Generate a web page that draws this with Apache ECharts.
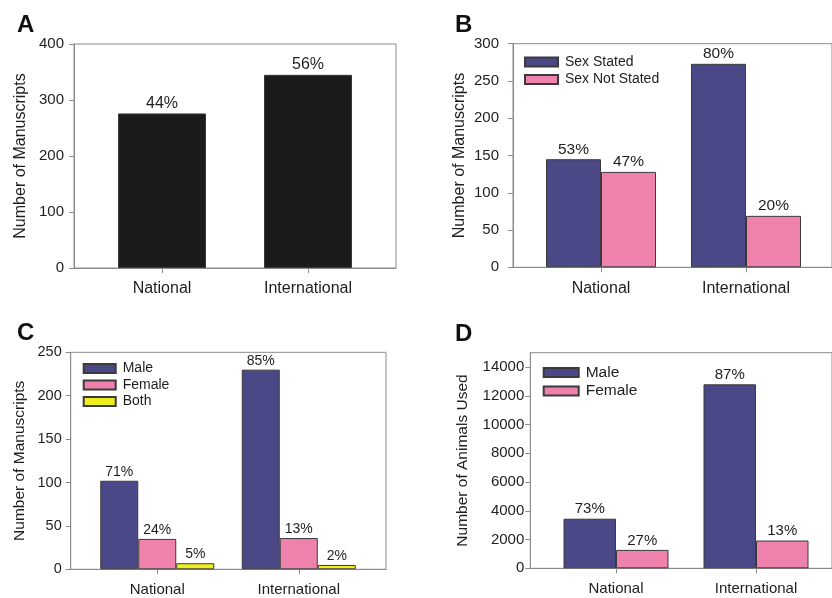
<!DOCTYPE html>
<html>
<head>
<meta charset="utf-8">
<script src="https://cdn.jsdelivr.net/npm/echarts@6/dist/echarts.min.js"></script>
<style>html,body{margin:0;padding:0;background:#fff}#c{width:832px;height:598px}</style>
</head>
<body>
<div id="c"></div>
<script>
// ---- data ----
const categories = ['National', 'International'];
// Panel A: total manuscripts
const totalA = [276, 345];
const pctA = ['44%', '56%'];
const ticksA = [0, 100, 200, 300, 400];
// Panel B: sex stated / not stated
const statedB = [145, 273];
const notStatedB = [128, 69];
const pctStatedB = ['53%', '80%'];
const pctNotStatedB = ['47%', '20%'];
const ticksB = [0, 50, 100, 150, 200, 250, 300];
// Panel C: male / female / both manuscripts
const maleC = [102, 230];
const femaleC = [35, 36];
const bothC = [7, 5];
const pctMaleC = ['71%', '85%'];
const pctFemaleC = ['24%', '13%'];
const pctBothC = ['5%', '2%'];
const ticksC = [0, 50, 100, 150, 200, 250];
// Panel D: animals used
const maleD = [3450, 12800];
const femaleD = [1280, 1930];
const pctMaleD = ['73%', '87%'];
const pctFemaleD = ['27%', '13%'];
const ticksD = [0, 2000, 4000, 6000, 8000, 10000, 12000, 14000];
const axisMaxD = 15000;

// ---- styles ----
const FONT = '"Liberation Sans", Arial, sans-serif';
const AXIS = '#8a8a8a';
const TXT = '#1e1e1e';
const NAVY = '#4a4887';
const PINK = '#ef82ad';
const YELLOW = '#eeee1e';
const BLACK = '#1b1b1b';
const EDGE = '#3a3a3a';

const grids = [], xAxes = [], yAxes = [], series = [], legends = [], titles = [];

function panel(cfg) {
  const f = grids.length, i = f + 1;
  grids.push({left: cfg.frame[0], top: cfg.frame[1], width: cfg.frame[2], height: cfg.frame[3],
    show: true, borderColor: AXIS, borderWidth: 1, backgroundColor: 'transparent'});
  grids.push({left: cfg.inner[0], top: cfg.frame[1], width: cfg.inner[1], height: cfg.frame[3]});
  const step = cfg.ticks[1] - cfg.ticks[0];
  const yMax = cfg.yMax != null ? cfg.yMax : cfg.ticks[cfg.ticks.length - 1];
  xAxes.push({gridIndex: f, type: 'value', min: 0, max: 1,
    axisLine: {show: true, lineStyle: {color: AXIS, width: 1}}, axisTick: {show: false},
    axisLabel: {show: false}, splitLine: {show: false}});
  xAxes.push({gridIndex: i, type: 'category', data: categories,
    axisLine: {show: false},
    axisTick: {show: true, alignWithLabel: true, length: 5, lineStyle: {color: AXIS}},
    axisLabel: {fontSize: cfg.catFont, color: TXT, margin: cfg.catMargin, fontFamily: FONT}});
  const yl = {fontSize: cfg.tickFont, color: TXT, margin: cfg.tickMargin, fontFamily: FONT,
    formatter: v => String(v)};
  const yt = {show: true, length: 5, lineStyle: {color: AXIS}};
  if (cfg.yMax != null) { yl.customValues = cfg.ticks; yt.customValues = cfg.ticks; }
  yAxes.push({gridIndex: f, type: 'value', min: cfg.ticks[0], max: yMax, interval: step,
    axisLine: {show: true, lineStyle: {color: AXIS, width: 1}}, axisTick: yt, axisLabel: yl,
    splitLine: {show: false},
    name: cfg.yName, nameLocation: 'middle', nameGap: cfg.nameGap,
    nameTextStyle: {fontSize: cfg.nameFont, color: TXT, fontFamily: FONT}});
  yAxes.push({gridIndex: i, type: 'value', min: cfg.ticks[0], max: yMax, show: false});
  cfg.bars.forEach(b => {
    series.push({type: 'bar', name: b.name, xAxisIndex: i, yAxisIndex: i, data: b.data,
      barWidth: cfg.barWidth, barGap: '0%',
      itemStyle: {color: b.color, borderColor: EDGE, borderWidth: 1},
      label: {show: true, position: 'top', distance: 2, fontSize: cfg.pctFont, color: TXT, fontFamily: FONT,
        formatter: p => b.pct[p.dataIndex]}});
  });
  titles.push({text: cfg.letter, left: cfg.letterPos[0], top: cfg.letterPos[1],
    textStyle: {fontSize: 24, fontWeight: 'bold', color: '#111', fontFamily: FONT}});
  if (cfg.legend) {
    legends.push(Object.assign({orient: 'vertical', padding: 0, icon: 'rect',
      data: cfg.bars.map(b => b.name)}, cfg.legend));
  }
}

panel({letter: 'A', letterPos: [12, 8], frame: [74, 44, 322, 224], inner: [89, 292],
  ticks: ticksA, yName: 'Number of Manuscripts', nameGap: 45, nameFont: 16,
  tickFont: 15, tickMargin: 10, catFont: 16, catMargin: 13, pctFont: 16, barWidth: 88,
  bars: [{name: 'Total', data: totalA, pct: pctA, color: BLACK}]});

panel({letter: 'B', letterPos: [450, 8], frame: [513, 43.7, 321, 223.6], inner: [528.5, 290],
  ticks: ticksB, yName: 'Number of Manuscripts', nameGap: 45, nameFont: 16,
  tickFont: 15, tickMargin: 14, catFont: 16, catMargin: 13, pctFont: 15.5, barWidth: 55,
  bars: [{name: 'Sex Stated', data: statedB, pct: pctStatedB, color: NAVY},
         {name: 'Sex Not Stated', data: notStatedB, pct: pctNotStatedB, color: PINK}],
  legend: {left: 524, top: 54, itemWidth: 33, itemHeight: 9, itemGap: 1.5,
    textStyle: {fontSize: 14, lineHeight: 16, color: TXT, fontFamily: FONT, padding: [0, 0, 0, 2]}}});

panel({letter: 'C', letterPos: [12, 316], frame: [70.7, 352.3, 315.3, 217], inner: [86.5, 283],
  ticks: ticksC, yName: 'Number of Manuscripts', nameGap: 43, nameFont: 15.5,
  tickFont: 14.5, tickMargin: 9, catFont: 15, catMargin: 13, pctFont: 14, barWidth: 38,
  bars: [{name: 'Male', data: maleC, pct: pctMaleC, color: NAVY},
         {name: 'Female', data: femaleC, pct: pctFemaleC, color: PINK},
         {name: 'Both', data: bothC, pct: pctBothC, color: YELLOW}],
  legend: {left: 82.7, top: 361, itemWidth: 32, itemHeight: 9, itemGap: 1.5,
    textStyle: {fontSize: 14, lineHeight: 15, color: TXT, fontFamily: FONT, padding: [0, 0, 0, 2]}}});

panel({letter: 'D', letterPos: [450, 317], frame: [530.3, 352.7, 311.4, 215.6], inner: [546, 280],
  ticks: ticksD, yMax: axisMaxD, yName: 'Number of Animals Used', nameGap: 60, nameFont: 15.5,
  tickFont: 15, tickMargin: 6, catFont: 15, catMargin: 13, pctFont: 15, barWidth: 52.5,
  bars: [{name: 'Male', data: maleD, pct: pctMaleD, color: NAVY},
         {name: 'Female', data: femaleD, pct: pctFemaleD, color: PINK}],
  legend: {left: 542.7, top: 364, itemWidth: 35, itemHeight: 9, itemGap: 1.4,
    textStyle: {fontSize: 15.5, lineHeight: 17, color: TXT, fontFamily: FONT, padding: [0, 0, 0, 2]}}});

const chart = echarts.init(document.getElementById('c'), null, {renderer: 'canvas'});
chart.setOption({
  animation: false,
  backgroundColor: '#ffffff',
  textStyle: {fontFamily: FONT},
  title: titles, grid: grids, xAxis: xAxes, yAxis: yAxes, legend: legends, series: series
});
</script>
</body>
</html>
